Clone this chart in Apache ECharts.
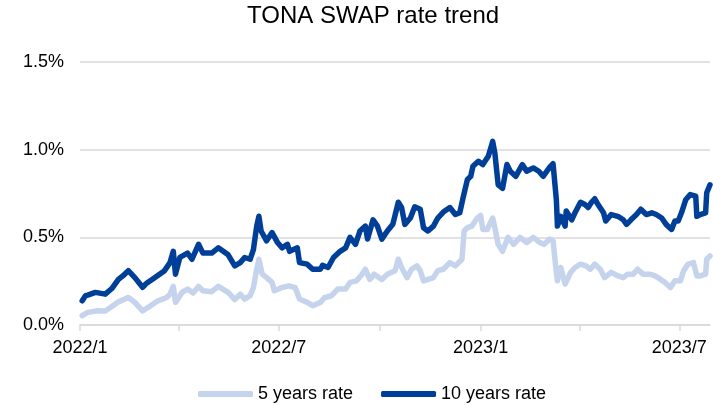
<!DOCTYPE html>
<html>
<head>
<meta charset="UTF-8">
<title>TONA SWAP rate trend</title>
<script type="text/javascript" src="https://cdn.jsdelivr.net/npm/echarts@6/dist/echarts.min.js"></script>
<style>
  html, body { margin: 0; padding: 0; background: #fff; }
</style>
</head>
<body>
	<div id="div1" style="width:713px;height:405px"></div>
	<script type="text/javascript">
	// 5 years rate (%)
	var fiveDates = ['2022-01-03','2022-01-08','2022-01-17','2022-01-24','2022-01-30','2022-02-05','2022-02-11','2022-02-14',
		'2022-02-20','2022-02-27','2022-03-04','2022-03-13','2022-03-21','2022-03-24','2022-03-27','2022-03-29',
		'2022-04-04','2022-04-09','2022-04-14','2022-04-19','2022-04-23','2022-05-01','2022-05-07','2022-05-16',
		'2022-05-22','2022-05-27','2022-05-31','2022-06-05','2022-06-08','2022-06-11','2022-06-13','2022-06-16',
		'2022-06-20','2022-06-25','2022-06-27','2022-07-04','2022-07-10','2022-07-16','2022-07-20','2022-07-27',
		'2022-08-01','2022-08-08','2022-08-12','2022-08-18','2022-08-24','2022-08-31','2022-09-04','2022-09-10',
		'2022-09-15','2022-09-18','2022-09-22','2022-09-26','2022-10-03','2022-10-08','2022-10-15','2022-10-18',
		'2022-10-21','2022-10-26','2022-10-30','2022-11-04','2022-11-07','2022-11-10','2022-11-14','2022-11-19',
		'2022-11-23','2022-11-28','2022-12-04','2022-12-09','2022-12-15','2022-12-17','2022-12-20','2022-12-24',
		'2022-12-29','2023-01-01','2023-01-03','2023-01-07','2023-01-12','2023-01-14','2023-01-17','2023-01-21',
		'2023-01-26','2023-01-31','2023-02-06','2023-02-12','2023-02-18','2023-02-24','2023-02-28','2023-03-05',
		'2023-03-08','2023-03-11','2023-03-12','2023-03-15','2023-03-19','2023-03-24','2023-03-28','2023-04-02',
		'2023-04-07','2023-04-11','2023-04-15','2023-04-20','2023-04-24','2023-04-30','2023-05-06','2023-05-11',
		'2023-05-15','2023-05-20','2023-05-24','2023-05-29','2023-06-04','2023-06-09','2023-06-14','2023-06-18',
		'2023-06-23','2023-06-27','2023-07-02','2023-07-05','2023-07-09','2023-07-14','2023-07-17','2023-07-20',
		'2023-07-25','2023-07-26','2023-07-29'];
	var fiveRates = [0.053,0.072,0.081,0.08,0.106,0.132,0.148,0.157,
		0.129,0.081,0.10,0.138,0.157,0.176,0.22,0.129,
		0.186,0.205,0.182,0.22,0.195,0.19,0.22,0.186,
		0.145,0.176,0.148,0.167,0.214,0.318,0.375,0.29,
		0.27,0.243,0.195,0.214,0.223,0.214,0.148,0.129,
		0.11,0.129,0.157,0.167,0.205,0.205,0.243,0.252,
		0.29,0.318,0.26,0.29,0.26,0.29,0.31,0.375,
		0.328,0.27,0.318,0.337,0.31,0.252,0.26,0.27,
		0.31,0.318,0.356,0.337,0.375,0.536,0.555,0.564,
		0.61,0.625,0.545,0.545,0.61,0.555,0.46,0.42,
		0.50,0.46,0.50,0.47,0.50,0.47,0.46,0.49,
		0.48,0.30,0.252,0.328,0.233,0.30,0.328,0.347,
		0.337,0.318,0.347,0.318,0.27,0.30,0.28,0.27,
		0.29,0.29,0.318,0.29,0.29,0.28,0.26,0.243,
		0.214,0.252,0.252,0.31,0.347,0.356,0.28,0.28,
		0.29,0.375,0.394];

	// 10 years rate (%)
	var tenDates = ['2022-01-03','2022-01-06','2022-01-08','2022-01-15','2022-01-24','2022-01-30','2022-02-05','2022-02-09',
		'2022-02-14','2022-02-20','2022-02-27','2022-03-03','2022-03-10','2022-03-19','2022-03-24','2022-03-27',
		'2022-03-29','2022-04-02','2022-04-09','2022-04-13','2022-04-19','2022-04-23','2022-05-01','2022-05-07',
		'2022-05-16','2022-05-22','2022-05-27','2022-05-31','2022-06-05','2022-06-08','2022-06-11','2022-06-13',
		'2022-06-15','2022-06-20','2022-06-25','2022-06-30','2022-07-04','2022-07-09','2022-07-11','2022-07-18',
		'2022-07-20','2022-07-27','2022-08-01','2022-08-08','2022-08-10','2022-08-15','2022-08-20','2022-08-26',
		'2022-08-31','2022-09-04','2022-09-09','2022-09-13','2022-09-18','2022-09-20','2022-09-25','2022-09-29',
		'2022-10-03','2022-10-08','2022-10-13','2022-10-18','2022-10-21','2022-10-24','2022-10-29','2022-11-02',
		'2022-11-07','2022-11-10','2022-11-14','2022-11-19','2022-11-23','2022-11-28','2022-12-04','2022-12-09',
		'2022-12-13','2022-12-16','2022-12-20','2022-12-23','2022-12-25','2022-12-30','2023-01-03','2023-01-08',
		'2023-01-12','2023-01-14','2023-01-17','2023-01-21','2023-01-25','2023-01-28','2023-02-02','2023-02-08',
		'2023-02-12','2023-02-18','2023-02-23','2023-02-27','2023-03-05','2023-03-08','2023-03-11','2023-03-12',
		'2023-03-15','2023-03-19','2023-03-20','2023-03-25','2023-03-28','2023-04-02','2023-04-06','2023-04-09',
		'2023-04-12','2023-04-15','2023-04-18','2023-04-23','2023-04-25','2023-04-30','2023-05-06','2023-05-11',
		'2023-05-14','2023-05-18','2023-05-23','2023-05-27','2023-06-01','2023-06-06','2023-06-10','2023-06-15',
		'2023-06-19','2023-06-24','2023-06-27','2023-06-30','2023-07-03','2023-07-07','2023-07-11','2023-07-16',
		'2023-07-17','2023-07-20','2023-07-25','2023-07-26','2023-07-29'];
	var tenRates = [0.138,0.167,0.17,0.186,0.176,0.208,0.26,0.28,
		0.31,0.27,0.215,0.24,0.27,0.31,0.356,0.42,
		0.29,0.386,0.41,0.375,0.46,0.41,0.41,0.44,
		0.40,0.337,0.356,0.385,0.375,0.43,0.564,0.62,
		0.536,0.48,0.527,0.47,0.44,0.46,0.42,0.44,
		0.356,0.347,0.318,0.318,0.34,0.328,0.385,0.42,
		0.44,0.50,0.46,0.536,0.564,0.49,0.60,0.564,
		0.49,0.536,0.574,0.70,0.67,0.574,0.61,0.674,
		0.66,0.555,0.536,0.564,0.61,0.644,0.67,0.63,
		0.64,0.725,0.83,0.848,0.905,0.934,0.915,0.962,
		1.047,0.98,0.80,0.78,0.915,0.877,0.848,0.915,
		0.877,0.896,0.877,0.848,0.90,0.92,0.716,0.564,
		0.62,0.564,0.65,0.60,0.64,0.70,0.687,0.67,
		0.70,0.72,0.687,0.64,0.593,0.63,0.62,0.60,
		0.574,0.60,0.63,0.66,0.63,0.64,0.63,0.61,
		0.574,0.545,0.593,0.593,0.64,0.716,0.744,0.735,
		0.62,0.63,0.64,0.754,0.80];

	var yTicks = [0, 0.5, 1.0, 1.5];
	var xStart = '2022-01-01', xEnd = '2023-07-29';

	function zip(dates, vals) {
		var res = [];
		for (var i = 0; i < dates.length; i++) {
			res.push([dates[i], vals[i]]);
		}
		return res;
	}

	var font = 'Liberation Sans, Arial, sans-serif';
	var myChart = echarts.init(document.getElementById('div1'), null, {renderer: 'canvas'});

	var option = {
		animation: false,
		title: {
			text: 'TONA SWAP rate trend',
			left: 247,
			top: 0,
			padding: [4, 0, 0, 0],
			textStyle: { fontFamily: font, fontSize: 24, fontWeight: 'normal', color: '#000' }
		},
		legend: {
			left: 193,
			top: 380,
			itemGap: 28,
			itemWidth: 55,
			itemHeight: 6,
			icon: 'roundRect',
			textStyle: { fontFamily: font, fontSize: 18, color: '#000' },
			data: ['5 years rate', '10 years rate']
		},
		grid: { left: 80, right: 3, top: 62, bottom: 80 },
		xAxis: {
			type: 'time',
			min: xStart,
			max: xEnd,
			splitLine: { show: false },
			axisLine: { lineStyle: { color: '#d9d9d9', width: 1.5 } },
			axisTick: { show: true, length: 6, lineStyle: { color: '#d9d9d9', width: 1.5 } },
			axisLabel: {
				fontFamily: font, fontSize: 18, color: '#000', margin: 14,
				formatter: function (v) {
					var d = new Date(v);
					var m = d.getMonth();
					if (d.getDate() === 1 && (m === 0 || m === 6)) {
						return d.getFullYear() + '/' + (m + 1);
					}
					return '';
				}
			}
		},
		yAxis: {
			type: 'value',
			min: yTicks[0],
			max: yTicks[yTicks.length - 1],
			interval: 0.5,
			axisLine: { show: false },
			axisTick: { show: false },
			splitLine: { lineStyle: { color: '#d9d9d9', width: 1.5 } },
			axisLabel: {
				fontFamily: font, fontSize: 18, color: '#000', margin: 16,
				formatter: function (v) { return v.toFixed(1) + '%'; }
			}
		},
		series: [
			{
				name: '5 years rate',
				type: 'line',
				showSymbol: false,
				symbol: 'none',
				data: zip(fiveDates, fiveRates),
				itemStyle: { color: '#c5d4ec' },
				lineStyle: { color: '#c5d4ec', width: 5.5, cap: 'round', join: 'round' }
			},
			{
				name: '10 years rate',
				type: 'line',
				showSymbol: false,
				symbol: 'none',
				data: zip(tenDates, tenRates),
				itemStyle: { color: '#003f98' },
				lineStyle: { color: '#003f98', width: 5.5, cap: 'round', join: 'round' }
			}
		]
	};
	myChart.setOption(option);
	</script>
</body>
</html>
